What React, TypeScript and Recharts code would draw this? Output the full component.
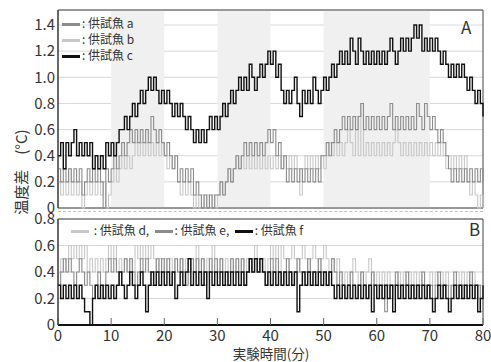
import { LineChart, Line, XAxis, YAxis, CartesianGrid, ReferenceArea } from 'recharts';

// 0.5 min sampling, values in tenths of a degree
const minutes = Array.from({ length: 161 }, (_, i) => i / 2);

const fishA = [
  3, 2, 3, 2, 3, 2, 3, 2, 3, 1, 2, 3, 2, 3, 2, 3, 2, 0, 3, 2,
  3, 4, 3, 4, 5, 4, 5, 6, 5, 6, 5, 6, 5, 6, 5, 7, 6, 5, 6, 5,
  4, 5, 4, 3, 4, 2, 3, 2, 3, 2, 3, 1, 2, 1, 0, 1, 0, 1, 0, 1,
  1, 2, 1, 2, 3, 2, 3, 4, 3, 4, 5, 4, 5, 4, 5, 4, 5, 4, 5, 6,
  5, 6, 4, 5, 3, 4, 2, 3, 2, 3, 2, 3, 2, 3, 2, 3, 2, 3, 2, 4,
  4, 5, 4, 5, 6, 5, 6, 7, 6, 7, 6, 7, 6, 7, 8, 6, 7, 6, 7, 6,
  7, 6, 7, 6, 7, 8, 6, 7, 6, 7, 6, 7, 6, 7, 6, 8, 7, 6, 8, 7,
  6, 7, 6, 5, 6, 5, 4, 3, 2, 3, 2, 3, 2, 3, 2, 3, 2, 3, 2, 3,
  2,
];

const fishB = [
  2, 1, 2, 1, 3, 1, 2, 1, 2, 0, 1, 2, 1, 2, 1, 2, 1, 2, 0, 1,
  2, 3, 2, 3, 4, 3, 4, 3, 4, 5, 4, 5, 4, 5, 4, 5, 4, 5, 4, 5,
  4, 3, 4, 3, 4, 2, 1, 2, 1, 2, 1, 0, 1, 0, 1, 0, 1, 0, 1, 0,
  1, 2, 1, 2, 3, 2, 3, 4, 3, 4, 3, 4, 3, 4, 3, 4, 3, 4, 3, 4,
  3, 4, 3, 4, 3, 4, 3, 4, 3, 4, 3, 1, 3, 4, 3, 4, 3, 4, 3, 4,
  3, 4, 5, 4, 5, 4, 5, 4, 5, 6, 5, 4, 7, 4, 8, 4, 5, 4, 5, 4,
  5, 4, 5, 4, 5, 4, 5, 6, 5, 4, 5, 4, 5, 4, 5, 4, 5, 4, 5, 4,
  5, 4, 5, 4, 5, 4, 3, 4, 3, 4, 3, 4, 3, 4, 2, 1, 2, 1, 0, 1,
  0,
];

const fishC = [
  4, 5, 3, 5, 4, 5, 6, 4, 5, 4, 5, 4, 5, 3, 4, 3, 4, 3, 5, 4,
  5, 4, 5, 6, 6, 7, 6, 7, 8, 7, 8, 9, 8, 9, 10, 9, 10, 9, 8, 9,
  8, 9, 8, 7, 8, 7, 8, 7, 6, 7, 6, 5, 6, 5, 6, 5, 6, 7, 6, 7,
  6, 7, 8, 7, 8, 9, 8, 9, 10, 9, 10, 9, 11, 10, 9, 10, 11, 10, 11, 12,
  11, 12, 10, 11, 9, 8, 9, 8, 9, 10, 8, 7, 9, 8, 9, 8, 10, 9, 8, 9,
  10, 9, 10, 11, 10, 11, 12, 11, 12, 11, 13, 12, 11, 13, 12, 11, 12, 11, 12, 11,
  12, 11, 12, 11, 12, 13, 12, 11, 12, 13, 12, 13, 12, 13, 14, 13, 14, 12, 13, 12,
  13, 12, 13, 12, 11, 12, 11, 10, 11, 10, 11, 10, 11, 10, 9, 10, 9, 8, 9, 8,
  7,
];

const fishD = [
  4, 5, 4, 5, 6, 5, 6, 5, 6, 5, 6, 4, 5, 4, 5, 4, 5, 4, 5, 6,
  5, 6, 4, 5, 4, 5, 4, 5, 4, 6, 5, 6, 5, 6, 5, 6, 5, 4, 5, 4,
  5, 4, 5, 4, 5, 4, 5, 4, 5, 4, 5, 4, 6, 4, 5, 4, 5, 4, 6, 5,
  4, 5, 4, 5, 4, 5, 4, 5, 4, 5, 4, 5, 4, 5, 6, 5, 4, 5, 4, 5,
  6, 5, 6, 4, 6, 5, 4, 5, 6, 5, 4, 5, 6, 5, 4, 5, 6, 5, 4, 5,
  6, 5, 4, 5, 4, 5, 4, 3, 4, 3, 4, 5, 4, 3, 4, 3, 4, 5, 4, 3,
  4, 3, 4, 3, 4, 3, 2, 3, 4, 3, 4, 3, 4, 3, 4, 3, 4, 3, 2, 3,
  4, 3, 4, 3, 4, 3, 4, 3, 2, 3, 4, 3, 4, 3, 4, 3, 4, 3, 2, 3,
  3,
];

const fishE = [
  3, 4, 5, 4, 5, 4, 3, 4, 5, 4, 3, 4, 3, 2, 3, 4, 2, 3, 4, 5,
  4, 5, 4, 3, 4, 5, 4, 5, 4, 3, 4, 5, 4, 5, 4, 3, 4, 5, 4, 5,
  4, 5, 3, 4, 5, 4, 5, 4, 3, 4, 5, 4, 5, 4, 5, 3, 4, 5, 4, 5,
  4, 5, 4, 3, 4, 5, 4, 5, 4, 5, 3, 4, 5, 4, 5, 4, 5, 4, 3, 4,
  5, 4, 5, 4, 3, 4, 5, 4, 3, 4, 5, 4, 3, 4, 5, 4, 3, 4, 5, 4,
  4, 3, 4, 5, 4, 3, 4, 3, 2, 3, 4, 3, 2, 3, 4, 3, 2, 3, 4, 3,
  3, 2, 3, 1, 3, 2, 3, 4, 3, 2, 3, 4, 3, 2, 3, 2, 3, 4, 3, 2,
  3, 2, 3, 4, 3, 2, 3, 2, 3, 4, 3, 2, 3, 2, 3, 4, 3, 2, 3, 1,
  2,
];

const fishF = [
  3, 2, 3, 2, 3, 2, 3, 2, 3, 2, 1, 1, 0, 2, 3, 2, 3, 2, 3, 2,
  3, 2, 3, 4, 3, 2, 3, 4, 3, 2, 3, 4, 3, 1, 3, 4, 3, 4, 3, 4,
  3, 4, 3, 4, 2, 3, 4, 3, 4, 5, 3, 4, 3, 4, 3, 4, 2, 4, 3, 4,
  3, 4, 3, 4, 3, 4, 3, 4, 3, 4, 3, 4, 5, 4, 5, 4, 5, 4, 3, 4,
  3, 4, 3, 4, 3, 4, 3, 4, 3, 4, 1, 3, 4, 3, 4, 3, 4, 3, 4, 3,
  4, 3, 4, 3, 2, 3, 2, 3, 2, 3, 2, 3, 2, 3, 2, 3, 2, 3, 1, 3,
  2, 3, 2, 3, 2, 3, 1, 3, 2, 3, 2, 3, 2, 3, 2, 3, 2, 3, 2, 3,
  2, 1, 2, 3, 2, 3, 2, 1, 2, 3, 2, 3, 2, 3, 2, 3, 2, 3, 1, 2,
  3,
];

const xTicks = [0, 10, 20, 30, 40, 50, 60, 70, 80];
const yTicksA = [0, 0.2, 0.4, 0.6, 0.8, 1.0, 1.2, 1.4];
const yTicksB = [0, 0.2, 0.4, 0.6, 0.8];
const shadeBands = [
  [10, 20],
  [30, 40],
  [50, 70],
];

const dataA = minutes.map((t, i) => ({ t, a: fishA[i] / 10, b: fishB[i] / 10, c: fishC[i] / 10 }));
const dataB = minutes.map((t, i) => ({ t, d: fishD[i] / 10, e: fishE[i] / 10, f: fishF[i] / 10 }));

const font = '"Noto Sans CJK JP", "Noto Sans", sans-serif';
const numFont = '"Liberation Sans Narrow", "Noto Sans CJK JP", sans-serif';
const LIGHT = '#c8c8c8';
const MID = '#8c8c8c';
const DARK = '#111';

const fmt = (v: number) => (v === 0 ? '0' : v.toFixed(1));
const tickStyle = { fontSize: 15, fill: '#333', fontFamily: numFont };

function Swatch({ color }: { color: string }) {
  return <span style={{ display: 'inline-block', width: 18, height: 3, background: color, marginRight: 2, verticalAlign: 'middle' }} />;
}

export default function App() {
  const maxA = 1.515;
  return (
    <div style={{ position: 'absolute', left: 0, top: 0, width: 491, height: 362, background: '#fff', fontFamily: font, color: '#333', overflow: 'hidden' }}>
      <div style={{ position: 'absolute', left: 0, top: 0 }}>
        <LineChart width={491} height={222} data={dataA} margin={{ top: 10, right: 8, bottom: 14, left: 0 }}>
          {shadeBands.map(([x1, x2]) => (
            <ReferenceArea key={x1} x1={x1} x2={x2} y1={0} y2={maxA} fill="#f0f0f0" fillOpacity={1} stroke="none" />
          ))}
          <CartesianGrid vertical={false} stroke="#d8d8d8" />
          <XAxis type="number" dataKey="t" domain={[0, 80]} ticks={xTicks} tick={false} tickSize={-7} height={0}
            axisLine={{ stroke: '#111', strokeWidth: 2 }} tickLine={{ stroke: '#666' }} />
          <YAxis type="number" domain={[0, maxA]} ticks={yTicksA} width={58} tickLine={false} tickSize={0} tickMargin={3}
            tickFormatter={fmt} axisLine={{ stroke: '#333' }} tick={tickStyle} />
          <Line dataKey="b" type="stepAfter" stroke={LIGHT} strokeWidth={1.1} dot={false} isAnimationActive={false} />
          <Line dataKey="a" type="stepAfter" stroke={MID} strokeWidth={1.1} dot={false} isAnimationActive={false} />
          <Line dataKey="c" type="stepAfter" stroke={DARK} strokeWidth={1.4} dot={false} isAnimationActive={false} />
          <ReferenceArea x1={0} x2={80} y1={0} y2={maxA} fill="none" stroke="#444" />
        </LineChart>
      </div>
      <div style={{ position: 'absolute', left: 58, top: 211, width: 425, borderTop: '1px dashed #c4c4c4' }} />
      <div style={{ position: 'absolute', left: 0, top: 210 }}>
        <LineChart width={491} height={152} data={dataB} margin={{ top: 9, right: 8, bottom: 0, left: 0 }}>
          <CartesianGrid vertical={false} stroke="#d8d8d8" />
          <XAxis type="number" dataKey="t" domain={[0, 80]} ticks={xTicks} tickSize={-7} tickMargin={12} height={37}
            axisLine={{ stroke: '#111', strokeWidth: 2 }} tickLine={{ stroke: '#666' }} tick={tickStyle} />
          <YAxis type="number" domain={[0, 0.8]} ticks={yTicksB} width={58} tickLine={false} tickSize={0} tickMargin={3}
            tickFormatter={fmt} axisLine={{ stroke: '#333' }} tick={tickStyle} />
          <Line dataKey="d" type="stepAfter" stroke={LIGHT} strokeWidth={1.1} dot={false} isAnimationActive={false} />
          <Line dataKey="e" type="stepAfter" stroke={MID} strokeWidth={1.1} dot={false} isAnimationActive={false} />
          <Line dataKey="f" type="stepAfter" stroke={DARK} strokeWidth={1.4} dot={false} isAnimationActive={false} />
          <ReferenceArea x1={0} x2={80} y1={0} y2={0.8} fill="none" stroke="#444" />
        </LineChart>
      </div>

      {/* legend A */}
      <div style={{ position: 'absolute', left: 62, top: 15, fontSize: 12, lineHeight: '16px' }}>
        <div><Swatch color={MID} />: 供試魚 a</div>
        <div><Swatch color={LIGHT} />: 供試魚 b</div>
        <div><Swatch color={DARK} />: 供試魚 c</div>
      </div>
      {/* legend B */}
      <div style={{ position: 'absolute', left: 71, top: 222, fontSize: 12, lineHeight: '16px', whiteSpace: 'nowrap' }}>
        <Swatch color={LIGHT} /> : 供試魚 d,&nbsp;&nbsp;<Swatch color={MID} />: 供試魚 e,&nbsp;&nbsp;<Swatch color={DARK} />: 供試魚 f
      </div>
      <div style={{ position: 'absolute', left: 461, top: 17, fontSize: 17, lineHeight: '20px' }}>A</div>
      <div style={{ position: 'absolute', left: 469, top: 219, fontSize: 17, lineHeight: '20px' }}>B</div>
      <div style={{ position: 'absolute', left: 21, top: 172, transform: 'translate(-50%, -50%) rotate(-90deg)', fontSize: 15, lineHeight: '16px', whiteSpace: 'nowrap' }}>
        温度差　(°C)
      </div>
      <div style={{ position: 'absolute', left: 271, top: 353, transform: 'translate(-50%, -50%)', fontSize: 13.5, lineHeight: '14px', whiteSpace: 'nowrap' }}>
        実験時間(分)
      </div>
    </div>
  );
}
